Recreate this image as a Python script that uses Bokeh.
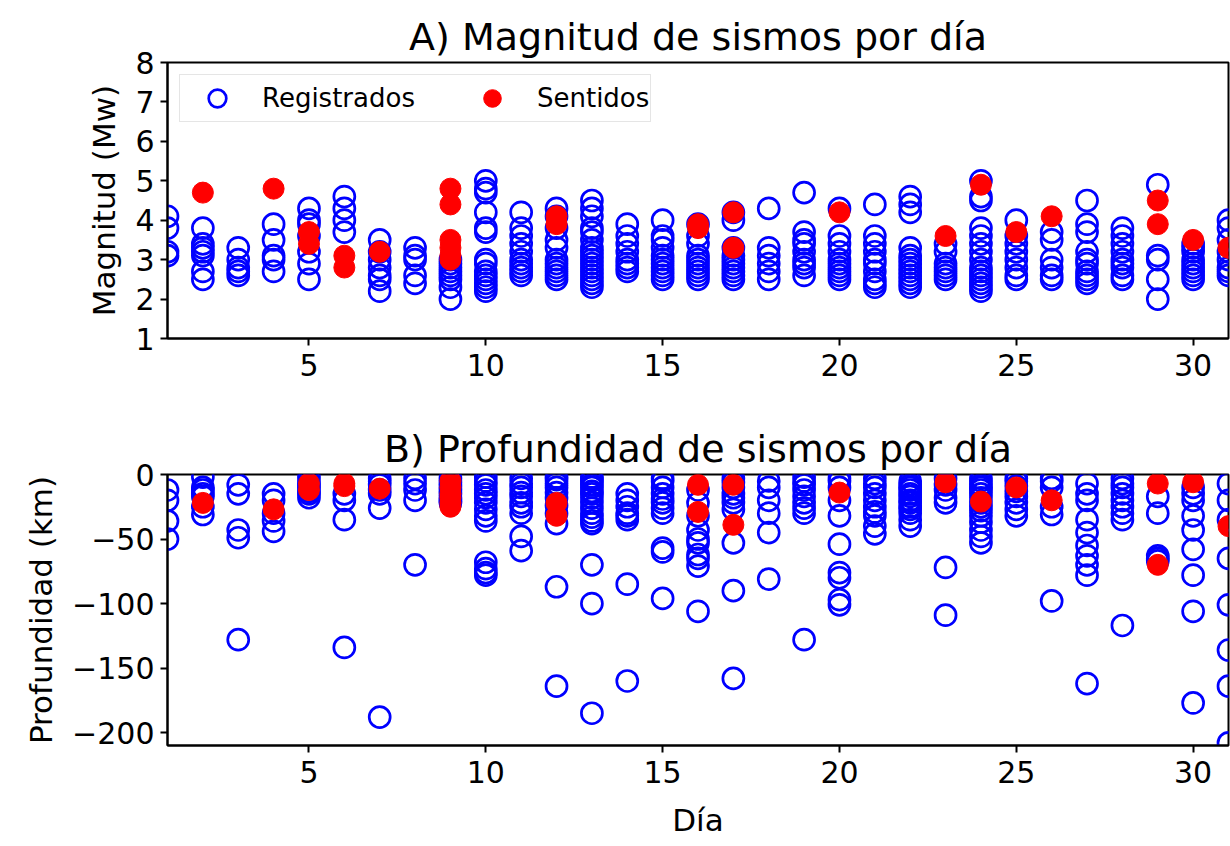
from bokeh.plotting import figure
from bokeh.layouts import column
from bokeh.models import Range1d, FixedTicker, Legend, LegendItem
from bokeh.embed import file_html
from bokeh.resources import INLINE

# ---- Data: registered events (day, magnitude, depth) ----
reg_by_day = {
    1: ([4.1, 3.8, 3.2, 3.1], [-12, -20, -36, -50]),
    2: ([3.8, 3.4, 3.3, 3.2, 3.1, 2.7, 2.5], [-2, -10, -12, -15, -17, -25, -31]),
    3: ([3.3, 3.0, 2.8, 2.7, 2.6], [-8, -15, -43, -49, -128]),
    4: ([3.9, 3.5, 3.1, 3.0, 2.7], [-15, -20, -30, -36, -44]),
    5: ([4.3, 4.0, 3.9, 3.6, 3.2, 2.9, 2.5], [-2, -5, -8, -10, -13, -15, -18]),
    6: ([4.6, 4.3, 4.0, 3.7], [-15, -20, -35, -134]),
    7: ([3.5, 3.2, 3.0, 2.8, 2.6, 2.5, 2.2], [-3, -5, -8, -12, -15, -26, -188]),
    8: ([3.3, 3.1, 3.0, 2.6, 2.4], [-3, -7, -12, -20, -70]),
    9: ([3.0, 2.9, 2.8, 2.7, 2.6, 2.5, 2.3, 2.0], [-3, -6, -9, -12, -15, -18, -20, -22]),
    10: ([5.0, 4.8, 4.7, 4.2, 3.8, 3.7, 3.0, 2.9, 2.7, 2.6, 2.5, 2.4, 2.3, 2.2],
         [-2, -5, -8, -12, -15, -18, -22, -27, -32, -36, -68, -73, -76, -78]),
    11: ([4.2, 3.8, 3.6, 3.4, 3.2, 3.0, 2.9, 2.8, 2.7, 2.6],
         [-3, -7, -10, -14, -17, -22, -25, -30, -48, -59]),
    12: ([4.3, 4.1, 3.8, 3.5, 3.3, 3.0, 2.9, 2.8, 2.7, 2.6, 2.5],
         [-2, -4, -7, -10, -14, -18, -24, -30, -38, -87, -164]),
    13: ([4.5, 4.3, 4.1, 3.8, 3.7, 3.5, 3.3, 3.2, 3.1, 3.0, 2.9, 2.8, 2.7, 2.6, 2.5, 2.4, 2.3],
         [-2, -4, -5, -8, -10, -13, -15, -18, -22, -26, -30, -33, -36, -38, -70, -100, -185]),
    14: ([3.9, 3.6, 3.4, 3.2, 3.0, 2.9, 2.8, 2.7], [-15, -20, -25, -30, -32, -35, -85, -160]),
    15: ([4.0, 3.6, 3.5, 3.3, 3.1, 3.0, 2.9, 2.8, 2.7, 2.6, 2.5],
         [-3, -5, -10, -15, -19, -22, -26, -30, -57, -60, -96]),
    16: ([3.9, 3.6, 3.4, 3.1, 3.0, 2.9, 2.8, 2.7, 2.6, 2.5],
         [-12, -22, -32, -43, -50, -53, -62, -65, -71, -106]),
    17: ([4.2, 4.0, 3.3, 3.1, 3.0, 2.9, 2.8, 2.7, 2.6, 2.5],
         [-3, -6, -10, -15, -18, -22, -27, -53, -90, -158]),
    18: ([4.3, 3.3, 3.1, 2.9, 2.7, 2.5], [-5, -10, -20, -30, -45, -81]),
    19: ([4.7, 3.7, 3.5, 3.4, 3.2, 3.0, 2.9, 2.8, 2.6], [-2, -5, -8, -12, -17, -22, -26, -30, -128]),
    20: ([4.3, 3.6, 3.4, 3.2, 3.0, 2.9, 2.8, 2.7, 2.6, 2.5],
         [-3, -5, -10, -20, -32, -54, -76, -80, -97, -101]),
    21: ([4.4, 3.6, 3.4, 3.2, 3.0, 2.9, 2.7, 2.5, 2.4, 2.3],
         [-3, -7, -10, -15, -20, -25, -29, -32, -40, -46]),
    22: ([4.6, 4.4, 4.2, 3.3, 3.1, 3.0, 2.9, 2.8, 2.7, 2.6, 2.5, 2.4, 2.3],
         [-5, -8, -10, -12, -15, -17, -20, -22, -25, -27, -30, -35, -40]),
    23: ([3.4, 3.2, 2.9, 2.8, 2.7, 2.6, 2.5], [-3, -8, -12, -18, -22, -72, -109]),
    24: ([5.0, 4.6, 4.5, 3.8, 3.6, 3.4, 3.2, 3.0, 2.8, 2.7, 2.6, 2.5, 2.4, 2.3, 2.2],
         [-3, -5, -8, -10, -12, -15, -18, -22, -25, -28, -32, -37, -43, -48, -53]),
    25: ([4.0, 3.6, 3.4, 3.2, 3.0, 2.8, 2.6, 2.5], [-3, -5, -9, -13, -17, -22, -27, -32]),
    26: ([3.7, 3.5, 3.0, 2.8, 2.6, 2.5], [-3, -5, -10, -25, -31, -98]),
    27: ([4.5, 3.9, 3.7, 3.2, 3.0, 2.9, 2.7, 2.6, 2.5, 2.4],
         [-7, -15, -20, -35, -45, -55, -63, -70, -78, -162]),
    28: ([3.8, 3.6, 3.4, 3.2, 3.0, 2.9, 2.8, 2.6, 2.5], [-3, -7, -10, -15, -20, -25, -30, -35, -117]),
    29: ([4.9, 3.1, 3.0, 2.5, 2.0], [-17, -30, -63, -65, -67]),
    30: ([3.4, 3.3, 3.2, 3.0, 2.9, 2.8, 2.7, 2.6, 2.5], [-10, -15, -20, -32, -43, -58, -78, -106, -177]),
    31: ([4.0, 3.8, 3.5, 3.2, 3.0, 2.8, 2.7, 2.6], [-7, -20, -35, -65, -101, -136, -164, -208]),
}

reg_day, reg_mag, reg_depth = [], [], []
for d, (mags, deps) in reg_by_day.items():
    for m, z in zip(mags, deps):
        reg_day.append(d)
        reg_mag.append(m)
        reg_depth.append(z)

# ---- Data: felt events ----
felt_day = [2, 4, 5, 5, 6, 6, 7, 9, 9, 9, 9, 9, 9, 12, 12, 16, 16, 17, 17, 20, 23, 24, 25, 26, 29, 29, 30, 31]
felt_mag = [4.7, 4.8, 3.7, 3.4, 3.1, 2.8, 3.2, 4.8, 4.4, 3.5, 3.3, 3.1, 3.0, 4.1, 3.9, 3.9, 3.8,
            4.2, 3.3, 4.2, 3.6, 4.9, 3.7, 4.1, 4.5, 3.9, 3.5, 3.3]
felt_depth = [-22, -27, -7, -12, -7, -9, -11, -5, -10, -15, -18, -22, -25, -22, -32, -8, -29,
              -8, -39, -14, -6, -21, -10, -20, -7, -70, -6, -40]

x_ticks = [5, 10, 15, 20, 25, 30]
mag_ticks = [1, 2, 3, 4, 5, 6, 7, 8]
depth_ticks = [0, -50, -100, -150, -200]

FONT = "DejaVu Sans"


def style(p, yticks):
    p.title.text_font = FONT
    p.title.text_font_size = "38px"
    p.title.text_font_style = "normal"
    p.title.align = "center"
    p.title.text_color = "black"
    p.title.standoff = 8
    p.outline_line_color = "black"
    p.outline_line_width = 2
    p.xgrid.visible = False
    p.ygrid.visible = False
    for ax in (p.xaxis[0], p.yaxis[0]):
        ax.major_label_text_font = FONT
        ax.major_label_text_font_size = "30px"
        ax.major_label_text_color = "black"
        ax.axis_label_text_font = FONT
        ax.axis_label_text_font_size = "31px"
        ax.axis_label_text_font_style = "normal"
        ax.axis_label_text_color = "black"
        ax.major_tick_in = 0
        ax.major_tick_out = 7
        ax.major_tick_line_width = 2
        ax.minor_tick_line_color = None
        ax.axis_line_width = 2
    p.xaxis[0].ticker = FixedTicker(ticks=x_ticks)
    p.yaxis[0].ticker = FixedTicker(ticks=yticks)
    p.xaxis[0].major_label_standoff = 8
    p.yaxis[0].major_label_standoff = 6
    p.yaxis[0].axis_label_standoff = 10
    p.xaxis[0].axis_label_standoff = 16


W = 1230
MS = 21
LW = 2.7

p1 = figure(width=W, height=400, output_backend="svg", toolbar_location=None,
            x_range=Range1d(1, 31), y_range=Range1d(1, 8),
            title="A) Magnitud de sismos por día",
            min_border_left=167, min_border_right=2, min_border_top=62, min_border_bottom=62)
style(p1, mag_ticks)
p1.yaxis[0].axis_label = "Magnitud (Mw)"
r1 = p1.scatter(reg_day, reg_mag, size=MS, marker="circle", fill_color=None,
                line_color="blue", line_width=LW)
r2 = p1.scatter(felt_day, felt_mag, size=MS, marker="circle", fill_color="red",
                line_color="red", line_width=1)
leg = Legend(items=[LegendItem(label="Registrados", renderers=[r1]),
                    LegendItem(label="Sentidos", renderers=[r2])],
             location="top_left", orientation="horizontal")
leg.label_text_font = FONT
leg.label_text_font_size = "26px"
leg.label_text_color = "black"
leg.border_line_color = "#cccccc"
leg.border_line_width = 1.5
leg.spacing = 41
leg.glyph_width = 72
leg.glyph_height = 44
leg.label_height = 30
leg.label_standoff = 9
leg.padding = 1
leg.margin = 12
p1.add_layout(leg)

p2 = figure(width=W, height=440, output_backend="svg", toolbar_location=None,
            x_range=Range1d(1, 31), y_range=Range1d(-210, 0),
            title="B) Profundidad de sismos por día",
            min_border_left=167, min_border_right=2, min_border_top=74, min_border_bottom=90)
style(p2, depth_ticks)
p2.yaxis[0].axis_label = "Profundidad (km)"
p2.xaxis[0].axis_label = "Día"
p2.scatter(reg_day, reg_depth, size=MS, marker="circle", fill_color=None,
           line_color="blue", line_width=LW)
p2.scatter(felt_day, felt_depth, size=MS, marker="circle", fill_color="red",
           line_color="red", line_width=1)

layout = column(p1, p2, spacing=0)
open("out.html", "w").write(file_html(layout, INLINE))
